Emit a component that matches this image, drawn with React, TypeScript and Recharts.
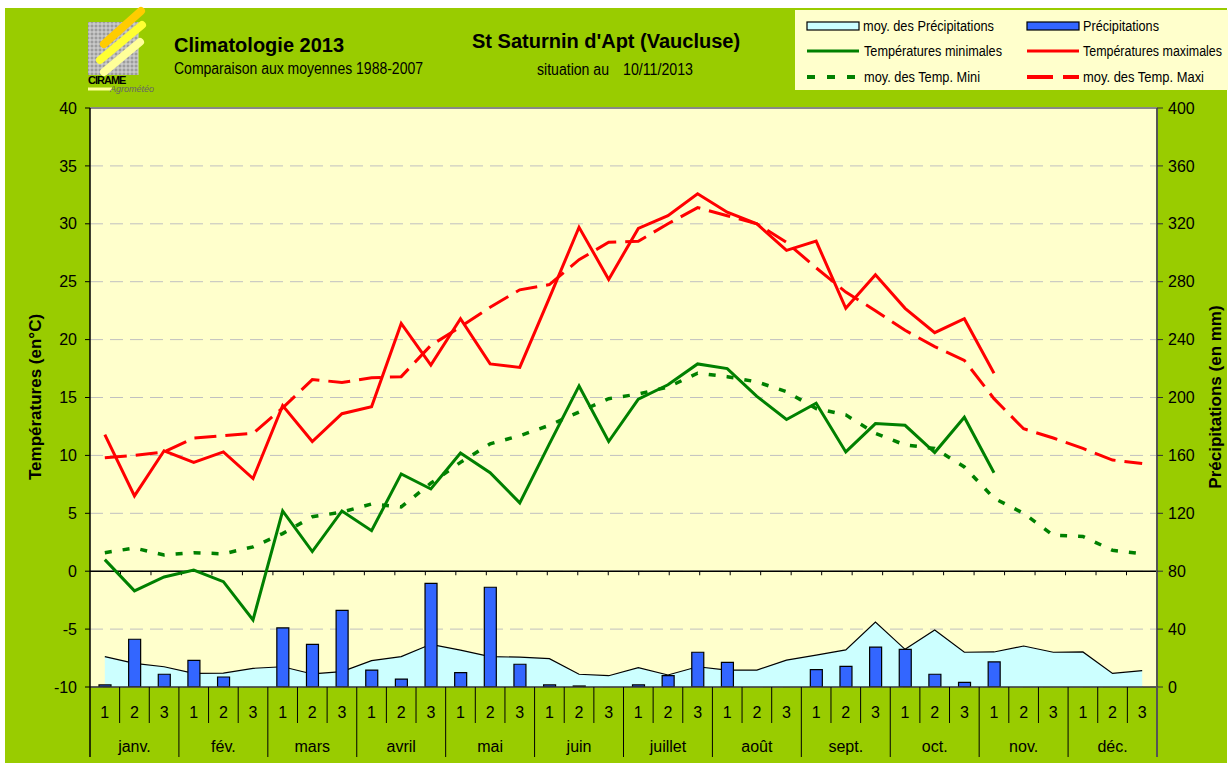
import React from "react";
import { ComposedChart, XAxis, YAxis, CartesianGrid, Bar, Line, Area, ReferenceLine } from "recharts";

const months = ["janv.", "fév.", "mars", "avril", "mai", "juin", "juillet", "août", "sept.", "oct.", "nov.", "déc."];
const decades = ["1", "2", "3"];

// températures par décade (°C)
const tempMax = [
  11.8, 6.5, 10.4, 9.4, 10.3, 8.0, 14.3, 11.2, 13.6, 14.2, 21.4, 17.8,
  21.8, 17.9, 17.6, 23.6, 29.7, 25.2, 29.6, 30.7, 32.6, 31.0, 30.0, 27.7,
  28.5, 22.7, 25.6, 22.7, 20.6, 21.8, 17.1, null, null, null, null, null,
];
const tempMin = [
  1.0, -1.7, -0.5, 0.1, -0.9, -4.2, 5.2, 1.7, 5.2, 3.5, 8.4, 7.1,
  10.2, 8.5, 5.9, 11.0, 16.0, 11.2, 14.85, 16.1, 17.9, 17.5, 15.1, 13.1,
  14.5, 10.3, 12.75, 12.6, 10.25, 13.3, 8.5, null, null, null, null, null,
];
const avgMax = [
  9.8, 10.0, 10.3, 11.5, 11.7, 11.9, 14.1, 16.55, 16.3, 16.7, 16.8, 19.5,
  21.1, 22.8, 24.3, 24.75, 26.9, 28.4, 28.5, 30.0, 31.4, 30.7, 30.0, 28.4,
  26.2, 24.1, 22.5, 20.8, 19.4, 18.2, 14.9, 12.3, 11.5, 10.6, 9.6, 9.3,
];
const avgMin = [
  1.6, 2.0, 1.4, 1.6, 1.5, 2.1, 3.25, 4.7, 5.1, 5.8, 5.55, 7.6,
  9.4, 11.0, 11.7, 12.6, 13.75, 14.9, 15.3, 15.9, 17.1, 16.8, 16.35, 15.5,
  14.05, 13.5, 11.9, 10.9, 10.6, 9.0, 6.3, 5.0, 3.1, 3.0, 1.8, 1.5,
];
// précipitations par décade (mm)
const precip = [
  1.4, 33, 8.8, 18.4, 6.9, 0, 40.8, 29.5, 53, 11.7, 5.5, 71.6,
  9.9, 68.9, 15.7, 1.4, 0.7, 0, 1.5, 7.8, 24, 17, 0, 0,
  12.0, 14.3, 27.6, 26, 8.8, 3.2, 17.3, null, null, null, null, null,
];
const avgPrecip = [
  21, 16.3, 14, 9.4, 9.6, 12.9, 14, 9, 10.6, 18.2, 21, 29.5,
  25.5, 21, 20.6, 19.6, 8.8, 7.8, 13.4, 8.3, 14, 11.7, 11.7, 18.6,
  22, 25.6, 44.9, 26, 39.4, 24, 24.2, 28.3, 24, 24.2, 9.4, 11.3,
];

const tempTicks = [-10, -5, 0, 5, 10, 15, 20, 25, 30, 35, 40];
const precipTicks = [0, 40, 80, 120, 160, 200, 240, 280, 320, 360, 400];

const rows = months.flatMap((m, mi) =>
  decades.map((d, di) => {
    const i = mi * 3 + di;
    return {
      key: `${m} ${d}`,
      month: m,
      decade: d,
      tMax: tempMax[i],
      tMin: tempMin[i],
      mMax: avgMax[i],
      mMin: avgMin[i],
      pluie: precip[i],
      mPluie: avgPrecip[i],
    };
  })
);
const boundaries = rows.map((_, i) => i).slice(1);

const SANS = "'Liberation Sans', Arial, sans-serif";
const GREEN_BG = "#99CC00";
const PLOT_BG = "#FFFFCC";
const W = 1231;
const H = 767;
const margin = { top: 108, right: 14, left: 30, bottom: 4 };
const BAND = (W - margin.left - margin.right - 120) / rows.length;

function DecadeTick(props: any) {
  const { x, y, payload } = props;
  const i = payload.index;
  const half = payload.offset || BAND / 2;
  const right = x + half;
  return (
    <g>
      <text x={x} y={y + 31} textAnchor="middle" fontSize={16} fontFamily={SANS} fill="#000">
        {rows[i].decade}
      </text>
      {i === 0 && <line x1={x - half} x2={x - half} y1={y} y2={y + 70} stroke="#000" strokeWidth={1.5} />}
      {i < rows.length - 1 && (
        <line x1={right} x2={right} y1={y} y2={y + (i % 3 === 2 ? 70 : 36)} stroke="#000" />
      )}
      {i === rows.length - 1 && <line x1={right} x2={right} y1={y} y2={y + 70} stroke="#555" strokeWidth={2} />}
    </g>
  );
}

function MonthTick(props: any) {
  const { x, y, payload } = props;
  const i = payload.index;
  if (i % 3 !== 1) return <g />;
  return (
    <text x={x} y={y + 29} textAnchor="middle" fontSize={16} fontFamily={SANS} fill="#000">
      {rows[i].month}
    </text>
  );
}

function Logo() {
  const grid = [];
  for (let gx = 90; gx <= 138; gx += 4) grid.push(<line key={"v" + gx} x1={gx} x2={gx} y1={22} y2={75} stroke="#D8D8D8" strokeWidth={1} />);
  for (let gy = 24; gy <= 75; gy += 4) grid.push(<line key={"h" + gy} x1={88} x2={138} y1={gy} y2={gy} stroke="#D8D8D8" strokeWidth={1} />);
  return (
    <g>
      <rect x={88} y={22} width={50} height={53} fill="#9C9C9C" />
      {grid}
      <line x1={104} y1={44} x2={141} y2={11} stroke="#FFCC00" strokeWidth={8} strokeLinecap="round" />
      <line x1={100} y1={60} x2={142} y2={25} stroke="#FFFF33" strokeWidth={8} strokeLinecap="round" />
      <line x1={104} y1={72} x2={140} y2={42} stroke="#FFFF99" strokeWidth={8} strokeLinecap="round" />
      <text x={88} y={84} fontSize={11} fontWeight="bold" fontFamily={SANS} fill="#000" letterSpacing={-1}>
        CIRAME
      </text>
      <line x1={88} y1={89} x2={112} y2={89} stroke="#FFFF99" strokeWidth={3} />
      <text x={110} y={92} fontSize={9} fontStyle="italic" fontFamily={SANS} fill="#666">
        Agrométéo
      </text>
    </g>
  );
}

// texte étroit (Arial Narrow dans l'original) : écrasé horizontalement puis ajusté à la largeur voulue
const SQUEEZE = 0.82;
function Narrow({ x, y, w, size, children }: any) {
  return (
    <text
      transform={`translate(${x} ${y}) scale(${SQUEEZE} 1)`}
      fontSize={size}
      fontFamily={SANS}
      fill="#000"
      textLength={w / SQUEEZE}
      lengthAdjust="spacingAndGlyphs"
    >
      {children}
    </text>
  );
}

function Overlay() {
  const lx1 = 807;
  const lx2 = 1027;
  return (
    <svg width={W} height={H} style={{ position: "absolute", left: 0, top: 0, pointerEvents: "none" }}>
      <Logo />
      <text x={174} y={52} fontSize={20} fontWeight="bold" fontFamily={SANS} fill="#000">Climatologie 2013</text>
      <Narrow x={174} y={74} w={249} size={16}>Comparaison aux moyennes 1988-2007</Narrow>
      <text x={472} y={48} fontSize={20} fontWeight="bold" fontFamily={SANS} fill="#000">St Saturnin d'Apt (Vaucluse)</text>
      <Narrow x={537} y={75} w={72} size={16}>situation au</Narrow>
      <Narrow x={623} y={75} w={70} size={16}>10/11/2013</Narrow>

      <text transform="translate(41 397) rotate(-90)" textAnchor="middle" fontSize={17} fontWeight="bold" fontFamily={SANS} fill="#000">
        Températures (en°C)
      </text>
      <text transform="translate(1221 397) rotate(-90)" textAnchor="middle" fontSize={17} fontWeight="bold" fontFamily={SANS} fill="#000">
        Précipitations (en mm)
      </text>

      <rect x={795} y={10} width={433} height={80} fill={PLOT_BG} />
      <rect x={lx1} y={22} width={52} height={8} fill="#CCFFFF" stroke="#000" strokeWidth={1.2} />
      <Narrow x={863} y={31} w={131} size={15}>moy. des Précipitations</Narrow>
      <rect x={lx2} y={22} width={52} height={8} fill="#3366FF" stroke="#000" strokeWidth={1.2} />
      <Narrow x={1083} y={31} w={76} size={15}>Précipitations</Narrow>
      <line x1={lx1} x2={lx1 + 52} y1={51} y2={51} stroke="#008000" strokeWidth={3} />
      <Narrow x={864} y={56} w={138} size={15}>Températures minimales</Narrow>
      <line x1={lx2} x2={lx2 + 52} y1={51} y2={51} stroke="#FF0000" strokeWidth={3} />
      <Narrow x={1083} y={56} w={139} size={15}>Températures maximales</Narrow>
      <line x1={lx1} x2={lx1 + 52} y1={77} y2={77} stroke="#008000" strokeWidth={4} strokeDasharray="8 12" />
      <Narrow x={864} y={82} w={116} size={15}>moy. des Temp. Mini</Narrow>
      <line x1={lx2} x2={lx2 + 52} y1={77} y2={77} stroke="#FF0000" strokeWidth={4} strokeDasharray="26 10" />
      <Narrow x={1083} y={82} w={121} size={15}>moy. des Temp. Maxi</Narrow>
    </svg>
  );
}

export default function App() {
  return (
    <div style={{ position: "absolute", left: 0, top: 0, width: W, height: H, background: "#fff", fontFamily: SANS }}>
      <div style={{ position: "absolute", left: 5, top: 8, width: 1222, height: 755, background: GREEN_BG }} />
      <div style={{ position: "absolute", left: 0, top: 0 }}>
        <ComposedChart width={W} height={H} data={rows} margin={margin}>
          <CartesianGrid
            yAxisId="left"
            vertical={false}
            fill={PLOT_BG}
            fillOpacity={1}
            stroke="#C0C0C0"
            strokeDasharray="13 7"
          />
          <XAxis
            dataKey="key"
            interval={0}
            height={36}
            tickSize={0}
            tickMargin={0}
            axisLine={{ stroke: "#333", strokeWidth: 1.5 }}
            tick={(p: any) => <DecadeTick {...p} />}
          />
          <XAxis
            xAxisId="m"
            dataKey="key"
            interval={0}
            height={40}
            tickSize={0}
            tickMargin={0}
            axisLine={false}
            tick={(p: any) => <MonthTick {...p} />}
          />
          <XAxis xAxisId="n" type="number" domain={[0, rows.length]} allowDataOverflow hide />
          <YAxis
            yAxisId="left"
            domain={[-10, 40]}
            ticks={tempTicks}
            interval={0}
            allowDataOverflow
            width={60}
            tickSize={5}
            tickMargin={8}
            axisLine={{ stroke: "#000", strokeWidth: 1.5 }}
            tickLine={{ stroke: "#000" }}
            tick={{ fill: "#000", fontSize: 16, fontFamily: SANS }}
          />
          <YAxis
            yAxisId="right"
            orientation="right"
            domain={[0, 400]}
            ticks={precipTicks}
            interval={0}
            allowDataOverflow
            width={60}
            tickSize={6}
            tickMargin={5}
            axisLine={{ stroke: "#555", strokeWidth: 2 }}
            tickLine={{ stroke: "#333" }}
            tick={{ fill: "#000", fontSize: 16, fontFamily: SANS }}
          />
          <ReferenceLine yAxisId="left" y={40} stroke="#888" strokeWidth={2} />
          <Area
            yAxisId="right"
            dataKey="mPluie"
            type="linear"
            fill="#CCFFFF"
            fillOpacity={1}
            stroke="#000"
            strokeWidth={1.2}
            isAnimationActive={false}
          />
          <Bar
            yAxisId="right"
            dataKey="pluie"
            barSize={12}
            fill="#3366FF"
            stroke="#000"
            strokeWidth={1.2}
            isAnimationActive={false}
          />
          <ReferenceLine yAxisId="left" y={0} stroke="#000" strokeWidth={1.5} />
          {boundaries.map((b) => (
            <ReferenceLine
              key={b}
              xAxisId="n"
              yAxisId="left"
              segment={[{ x: b, y: 0 }, { x: b, y: -0.35 }]}
              stroke="#000"
              strokeWidth={1}
            />
          ))}
          <Line yAxisId="left" dataKey="mMin" type="linear" stroke="#008000" strokeWidth={3.5} strokeDasharray="7 11" dot={false} isAnimationActive={false} />
          <Line yAxisId="left" dataKey="mMax" type="linear" stroke="#FF0000" strokeWidth={3} strokeDasharray="22 9" dot={false} isAnimationActive={false} />
          <Line yAxisId="left" dataKey="tMin" type="linear" stroke="#008000" strokeWidth={3} dot={false} isAnimationActive={false} />
          <Line yAxisId="left" dataKey="tMax" type="linear" stroke="#FF0000" strokeWidth={3} dot={false} isAnimationActive={false} />
        </ComposedChart>
      </div>
      <Overlay />
    </div>
  );
}
